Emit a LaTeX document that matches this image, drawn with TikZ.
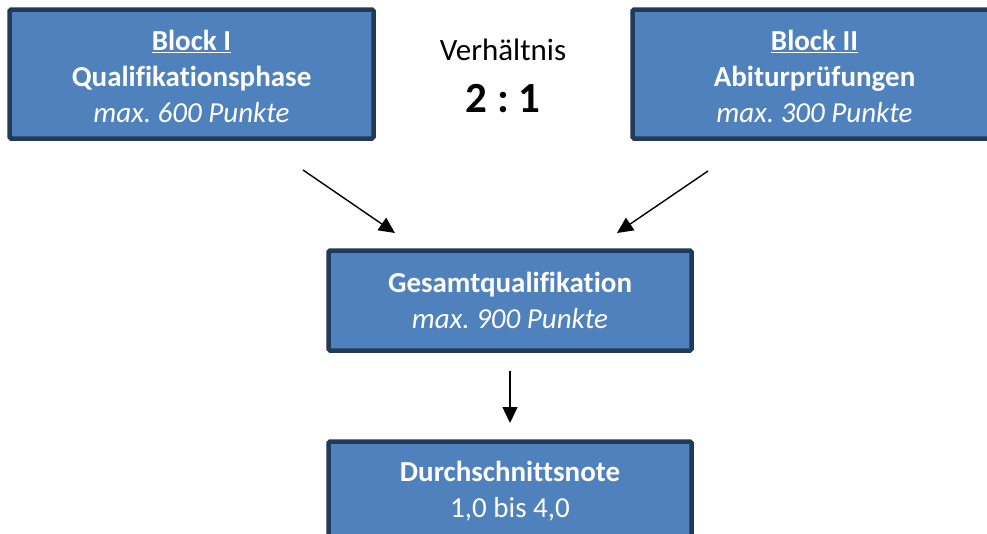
\documentclass[tikz,border=0pt]{standalone}
\usepackage{fontspec}
\setmainfont{Carlito}[Ligatures=NoCommon]
\usetikzlibrary{arrows.meta}
\definecolor{boxfill}{HTML}{4F81BD}
\definecolor{boxedge}{HTML}{213A58}
\tikzset{
  blockbox/.style={draw=boxedge, fill=boxfill, line width=4.5pt, rounded corners=1.5pt,
    inner sep=0pt},
  boxtext/.style={text=white, align=center, inner sep=0pt, font=\fontsize{29}{36}\selectfont},
  flowarrow/.style={line width=1.4pt, -{Triangle[length=16pt, width=15pt]}}
}
\frenchspacing
\begin{document}
\begin{tikzpicture}[x=1pt, y=-1pt]
  \useasboundingbox (0,0) rectangle (987,533);
  % die beiden Bloecke
  \node[blockbox, minimum width=364pt, minimum height=129pt] (blockI) at (191.5,74) {};
  \node[boxtext] (blockItext) at ([yshift=-2.5pt]blockI.center)
    {\textbf{\underline{Block I}}\\ \textbf{Qualifikationsphase}\\ \textit{max. 600 Punkte}};
  \node[blockbox, minimum width=364pt, minimum height=129pt] (blockII) at (814.5,74) {};
  \node[boxtext] (blockIItext) at ([yshift=-2.5pt]blockII.center)
    {\textbf{\underline{Block II}}\\ \textbf{Abiturprüfungen}\\ \textit{max. 300 Punkte}};
  \node[font=\fontsize{31}{36}\selectfont, inner sep=0pt, anchor=base] (verh) at (503,60) {Verhältnis};
  \node[font=\fontsize{43}{50}\selectfont\bfseries, inner sep=0pt, anchor=base] (ratio) at (503,112) {2 : 1};
  % Ergebnis
  \node[blockbox, minimum width=363pt, minimum height=100pt] (gesamt) at (510,300.5) {};
  \node[boxtext] (gesamttext) at (gesamt.center)
    {\textbf{Gesamtqualifikation}\\ \textit{max. 900 Punkte}};
  \node[blockbox, minimum width=363pt, minimum height=100pt] (note) at (510,491.5) {};
  \node[boxtext] (notetext) at (note.center)
    {\textbf{Durchschnittsnote}\\ 1,0 bis 4,0};
  % Pfeile
  \coordinate (a1) at (303,170);
  \coordinate (a1e) at (395,233);
  \coordinate (a2) at (708,171);
  \coordinate (a2e) at (617,233);
  \coordinate (a3) at (510,371);
  \coordinate (a3e) at (510,423);
  \draw[flowarrow] (a1) -- (a1e);
  \draw[flowarrow] (a2) -- (a2e);
  \draw[flowarrow] (a3) -- (a3e);
\end{tikzpicture}
\end{document}
